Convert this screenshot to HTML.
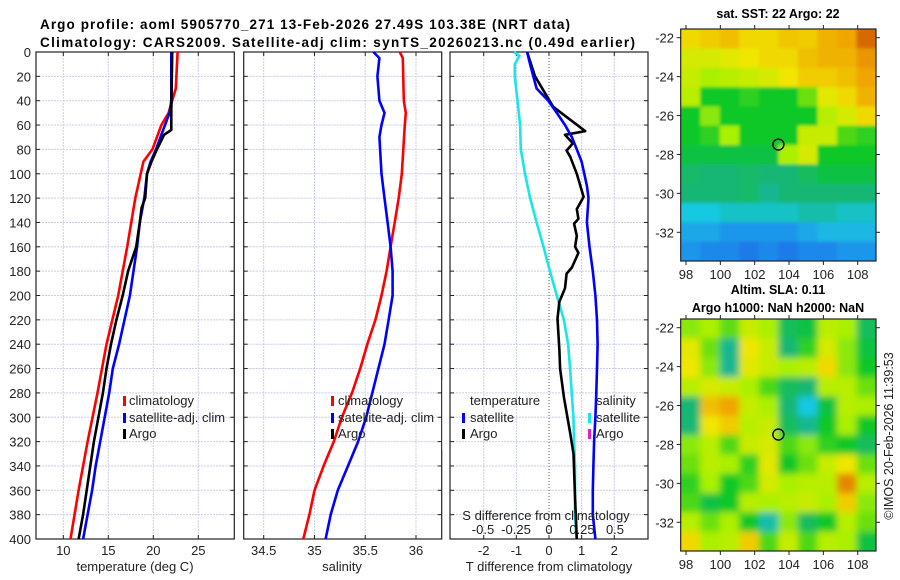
<!DOCTYPE html>
<html><head><meta charset="utf-8"><style>
body{margin:0;background:#fff}
svg{display:block;font-family:"Liberation Sans","DejaVu Sans",sans-serif}
</style></head><body>
<svg id="fig" width="900" height="580" viewBox="0 0 900 580">
<text x="40" y="29" font-size="13.5" font-weight="bold" textLength="530">Argo profile: aoml 5905770_271 13-Feb-2026 27.49S 103.38E (NRT data)</text>
<text x="40" y="47" font-size="13.5" font-weight="bold" textLength="595">Climatology: CARS2009. Satellite-adj clim: synTS_20260213.nc (0.49d earlier)</text>
<text x="778" y="18" font-size="12.5" font-weight="bold" text-anchor="middle">sat. SST: 22 Argo: 22</text>
<text x="778" y="294" font-size="12.5" font-weight="bold" text-anchor="middle">Altim. SLA: 0.11</text>
<text x="778" y="312" font-size="12.5" font-weight="bold" text-anchor="middle">Argo h1000: NaN h2000: NaN</text>
<text transform="translate(893,436) rotate(-90)" font-size="12.5" text-anchor="middle" fill="#222">©IMOS 20-Feb-2026 11:39:53</text>
<g id="plots"></g>
</svg>
<script>
// ---- panel 1 : temperature ----
const climTDepth=[0,30,50,60,80,90,120,160,200,240,280,320,360,400];
const climT=[22.7,22.5,21.7,20.9,19.9,18.9,18.0,17.1,16.1,14.8,13.8,12.7,11.7,10.8];
const satTDepth=[0,40,50,60,70,80,90,100,120,140,160,180,200,220,240,260,280,300,320,340,360,380,400];
const satT=[22.0,22.0,21.8,21.3,20.8,20.3,19.7,19.3,19.0,18.5,18.2,17.8,17.4,16.8,16.2,15.5,15.1,14.6,14.1,13.6,13.2,12.7,12.2];
const argoTDepth=[0,50,64,68,80,90,100,120,128,140,160,180,200,220,240,260,280,300,320,340,360,380,400];
const argoT=[22.1,22.0,22.0,21.2,20.4,19.8,19.3,19.1,18.7,18.5,18.1,17.2,16.6,15.9,15.3,14.8,14.4,13.9,13.4,13.0,12.6,12.2,11.7];
const tTicks=[10,15,20,25];
// ---- panel 2 : salinity ----
const climSDepth=[0,5,40,50,60,100,120,140,160,180,200,220,240,260,280,300,320,340,360,380,400];
const climS=[35.84,35.87,35.88,35.90,35.89,35.86,35.83,35.79,35.75,35.71,35.66,35.60,35.52,35.45,35.37,35.27,35.19,35.09,35.00,34.95,34.89];
const satSDepth=[0,5,20,40,50,60,70,100,120,140,160,180,200,220,240,260,280,300,320,340,360,380,400];
const satS=[35.58,35.64,35.62,35.64,35.69,35.66,35.64,35.66,35.69,35.72,35.75,35.77,35.77,35.73,35.69,35.63,35.57,35.51,35.43,35.33,35.23,35.16,35.11];
const sTicks=["34.5","35","35.5","36"];
// ---- panel 3 : differences ----
const dSatTDepth=[0,10,20,30,40,50,60,70,80,90,100,110,120,140,160,180,200,220,240,260,280,300,320,340,360,380,400];
const dSatT=[-0.67,-0.58,-0.48,-0.38,-0.02,0.24,0.49,0.70,0.85,1.0,1.08,1.16,1.21,1.16,1.24,1.34,1.42,1.47,1.49,1.47,1.45,1.42,1.38,1.36,1.34,1.34,1.42];
const dArgoTDepth=[0,20,45,65,68,75,81,86,100,119,129,137,141,151,160,165,177,182,194,205,219,245,260,284,313,330,367,400];
const dArgoT=[-0.67,-0.43,0.13,1.11,0.49,0.73,0.54,0.65,0.85,1.06,0.85,0.90,0.77,0.85,0.80,0.90,0.70,0.54,0.49,0.32,0.26,0.32,0.34,0.46,0.65,0.75,0.80,0.85];
const dSatSDepth=[0,3,10,20,40,60,80,100,120,140,160,180,200,220,240,260,280,300,320,340,360,380,400];
const dSatS=[-0.266,-0.224,-0.259,-0.259,-0.239,-0.219,-0.214,-0.182,-0.143,-0.094,-0.042,0.007,0.059,0.113,0.145,0.160,0.172,0.185,0.19,0.197,0.197,0.197,0.209];
const dTTicks=[-2,-1,0,1,2];
const dSTicks=["-0.5","-0.25","0","0.25","0.5"];
const depthTicks=[0,20,40,60,80,100,120,140,160,180,200,220,240,260,280,300,320,340,360,380,400];
// ---- maps (rows north->south, cols west->east) ----
const sstGrid=[
[.72,.74,.76,.72,.72,.75,.74,.78,.80,.88],
[.66,.66,.68,.70,.72,.72,.76,.78,.78,.82],
[.64,.60,.62,.64,.66,.70,.74,.74,.76,.80],
[.62,.50,.50,.52,.50,.50,.56,.68,.72,.78],
[.50,.58,.50,.50,.50,.50,.50,.62,.66,.72],
[.50,.52,.60,.50,.50,.50,.64,.64,.54,.52],
[.48,.48,.48,.48,.48,.60,.66,.50,.50,.50],
[.45,.44,.44,.45,.44,.44,.46,.48,.48,.48],
[.44,.44,.44,.45,.42,.44,.44,.44,.44,.44],
[.36,.36,.38,.38,.38,.38,.40,.40,.38,.38],
[.32,.32,.30,.30,.30,.30,.32,.34,.34,.34],
[.30,.28,.28,.26,.28,.26,.28,.28,.30,.30]];
const slaGrid=[
[.58,.60,.55,.64,.60,.46,.48,.62,.60,.46],
[.68,.56,.42,.70,.64,.44,.52,.66,.58,.48],
[.70,.58,.42,.68,.64,.60,.62,.72,.58,.50],
[.62,.66,.64,.60,.54,.46,.44,.62,.62,.56],
[.44,.76,.80,.64,.60,.44,.36,.48,.62,.60],
[.44,.70,.74,.62,.64,.46,.42,.50,.60,.50],
[.58,.62,.54,.64,.66,.54,.58,.52,.50,.46],
[.56,.62,.60,.52,.68,.50,.56,.64,.70,.56],
[.52,.60,.50,.54,.66,.60,.62,.62,.84,.62],
[.54,.48,.50,.62,.60,.62,.64,.60,.74,.58],
[.62,.56,.60,.50,.40,.58,.46,.50,.62,.56],
[.72,.60,.62,.74,.54,.64,.54,.62,.60,.48]];
const lonTicks=[98,100,102,104,106,108];
const latTicks=[-22,-24,-26,-28,-30,-32];
const argoLon=103.38, argoLat=-27.49;

const NS="http://www.w3.org/2000/svg";
const root=document.getElementById('plots');
function mk(tag,attrs,parent){const e=document.createElementNS(NS,tag);for(const k in attrs)e.setAttribute(k,attrs[k]);(parent||root).appendChild(e);return e;}
const Y0=52,Y1=539;
function yDepth(d){return Y0+d*(Y1-Y0)/400;}
function linMap(v0,p0,v1,p1){return v=>p0+(v-v0)*(p1-p0)/(v1-v0);}
const xT=linMap(10,63.3,25,198.3);
const xS=linMap(34.5,263.7,36,416);
const xD=linMap(0,549,2,614.3);
const xDS=linMap(0,549,0.5,615);

function panel(name,x0,x1,vticks,xf,labels,showY){
  const g=mk('g',{});
  
  
  depthTicks.forEach(d=>{
    const l=mk('line',{x1:x0,x2:x1,y1:yDepth(d),y2:yDepth(d),stroke:'#c9cdea','stroke-width':1,'stroke-dasharray':'2,1'},g);
    
    
    mk('line',{x1:x0,x2:x0+4,y1:yDepth(d),y2:yDepth(d),stroke:'#222'},g);
    mk('line',{x1:x1-4,x2:x1,y1:yDepth(d),y2:yDepth(d),stroke:'#222'},g);
    if(showY){const t=mk('text',{x:31,y:yDepth(d)+5,'font-size':13,'text-anchor':'end',fill:'#222'},g);t.textContent=d;
      
      }
  });
  vticks.forEach((v,i)=>{
    const x=xf(+v);
    const zero=(+v===0&&name==='difference-panel');
    const l=mk('line',{x1:x,x2:x,y1:Y0,y2:Y1,stroke:zero?'#555':'#c9cdea','stroke-width':1,'stroke-dasharray':zero?'1,2':'2,1'},g);
    
    
    mk('line',{x1:x,x2:x,y1:Y1-4,y2:Y1,stroke:'#222'},g);
    mk('line',{x1:x,x2:x,y1:Y0,y2:Y0+4,stroke:'#222'},g);
    const t=mk('text',{x:x,y:555,'font-size':13,'text-anchor':'middle',fill:'#222'},g);t.textContent=labels[i];
    
    
  });
  mk('rect',{x:x0,y:Y0,width:x1-x0,height:Y1-Y0,fill:'none',stroke:'#222','stroke-width':1.2},g);
  return g;
}
function series(g,depths,vals,xf,color,name){
  const pts=vals.map((v,i)=>xf(v).toFixed(1)+','+yDepth(depths[i]).toFixed(1)).join(' ');
  const p=mk('polyline',{points:pts,fill:'none',stroke:color,'stroke-width':2.6,'stroke-linejoin':'round'},g);
  
  
}
function txt(g,x,y,s,name,anchor,size){const t=mk('text',{x:x,y:y,'font-size':size||13,'text-anchor':anchor||'start',fill:'#222'},g);t.textContent=s;
  
  return t;}
function legendMark(g,x,y,color,name){const r=mk('rect',{x:x,y:y-9,width:3,height:10,fill:color},g);
  
  }

// panel 1
const g1=panel('temperature-panel',36,234.3,tTicks,xT,tTicks.map(String),true);
series(g1,climTDepth,climT,xT,'#ff0000','climatology-temperature-line');
series(g1,satTDepth,satT,xT,'#0000ff','satellite-temperature-line');
series(g1,argoTDepth,argoT,xT,'#000000','argo-temperature-line');
txt(g1,135,571,'temperature (deg C)','temperature-axis-title','middle');
legendMark(g1,123,405,'#ff0000','legend-marker-climatology');txt(g1,129,405,'climatology','legend-climatology');
legendMark(g1,123,422,'#0000ff','legend-marker-satellite');txt(g1,129,422,'satellite-adj. clim','legend-satellite-adj');
legendMark(g1,123,438,'#000','legend-marker-argo');txt(g1,129,438,'Argo','legend-argo');

// panel 2
const g2=panel('salinity-panel',243.7,441.7,sTicks,xS,sTicks,false);
series(g2,climSDepth,climS,xS,'#ff0000','climatology-salinity-line');
series(g2,satSDepth,satS,xS,'#0000ff','satellite-salinity-line');
txt(g2,342,571,'salinity','salinity-axis-title','middle');
legendMark(g2,331,405,'#ff0000','legend-marker-climatology');txt(g2,338,405,'climatology','legend-climatology');
legendMark(g2,331,422,'#0000ff','legend-marker-satellite');txt(g2,338,422,'satellite-adj. clim','legend-satellite-adj');
legendMark(g2,331,438,'#000','legend-marker-argo');txt(g2,338,438,'Argo','legend-argo');
mk('rect',{x:442.3,y:380,width:8,height:70,fill:'#fff'});

// panel 3
const g3=panel('difference-panel',450,648,dTTicks,xD,dTTicks.map(String),false);
series(g3,dSatSDepth,dSatS,xDS,'#19e6e6','salinity-satellite-difference-line');
series(g3,dArgoTDepth,dArgoT,xD,'#000000','argo-temperature-difference-line');
series(g3,dSatTDepth,dSatT,xD,'#0000ff','satellite-temperature-difference-line');
txt(g3,549,571,'T difference from climatology','t-difference-axis-title','middle');
txt(g3,470,405,'temperature','legend-temperature-header');
legendMark(g3,462,422,'#0000ff','legend-marker-t-satellite');txt(g3,470,422,'satellite','legend-t-satellite');
legendMark(g3,462,438,'#000','legend-marker-t-argo');txt(g3,470,438,'Argo','legend-t-argo');
txt(g3,596,405,'salinity','legend-salinity-header');
legendMark(g3,588,422,'#19e6e6','legend-marker-s-satellite');txt(g3,596,422,'satellite','legend-s-satellite');
legendMark(g3,588,438,'#e020c0','legend-marker-s-argo');txt(g3,596,438,'Argo','legend-s-argo');
txt(g3,546,520,'S difference from climatology','s-difference-axis-title','middle');
dSTicks.forEach(s=>{txt(g3,xDS(+s),534,s,'s-difference-tick-label','middle');});

// maps
function cmap(v){
  const stops=[[0.2,[20,80,230]],[0.3,[30,150,235]],[0.36,[25,200,225]],[0.43,[20,180,130]],[0.5,[15,200,40]],[0.6,[170,240,0]],[0.7,[240,230,0]],[0.8,[240,165,0]],[0.9,[210,90,0]]];
  if(v<=stops[0][0])return 'rgb('+stops[0][1]+')';
  for(let i=1;i<stops.length;i++){if(v<=stops[i][0]){const a=stops[i-1],b=stops[i],t=(v-a[0])/(b[0]-a[0]);
    return 'rgb('+a[1].map((c,k)=>Math.round(c+(b[1][k]-c)*t)).join(',')+')';}}
  return 'rgb('+stops[stops.length-1][1]+')';
}
const defs=mk('defs',{});
const flt=mk('filter',{id:'blur',x:'-5%',y:'-5%',width:'110%',height:'110%'},defs);
mk('feGaussianBlur',{stdDeviation:3.5},flt);
const flt2=mk('filter',{id:'blur2',x:'-5%',y:'-5%',width:'110%',height:'110%'},defs);
mk('feGaussianBlur',{stdDeviation:1.5},flt2);
function map(name,grid,top,bottom,lat22,lat32,blur){
  const L=680.7,R=876;
  const lonX=linMap(98,686,108,857.7);
  const latY=linMap(-22,lat22,-32,lat32);
  const g=mk('g',{});
  
  
  const cp=mk('clipPath',{id:name+'-clip'},defs);
  mk('rect',{x:L,y:top,width:R-L,height:bottom-top},cp);
  const cg=mk('g',{'clip-path':'url(#'+name+'-clip)'},g);
  const inner=mk('g',{filter:blur?'url(#blur)':'url(#blur2)'},cg);
  const rows=grid.length,cols=grid[0].length;
  const cw=(R-L)/cols,ch=(bottom-top)/rows;
  grid.forEach((row,r)=>row.forEach((v,c)=>{
    const ex=(c===0?-cw*0.5:0), ey=(r===0?-ch*0.5:0);
    const cell=mk('rect',{x:L+c*cw+ex,y:top+r*ch+ey,width:cw+0.6-ex+(c===cols-1?cw*0.5:0),height:ch+0.6-ey+(r===rows-1?ch*0.5:0),fill:cmap(v)},inner);
    
    
  }));
  mk('rect',{x:L,y:top,width:R-L,height:bottom-top,fill:'none',stroke:'#222','stroke-width':1.2},g);
  latTicks.forEach(la=>{const y=latY(la);
    mk('line',{x1:L-4,x2:L,y1:y,y2:y,stroke:'#222'},g);
    mk('line',{x1:R,x2:R+4,y1:y,y2:y,stroke:'#222'},g);
    txt(g,674,y+5,String(la),'latitude-tick-label','end');});
  lonTicks.forEach(lo=>{const x=lonX(lo);
    mk('line',{x1:x,x2:x,y1:bottom,y2:bottom+4,stroke:'#222'},g);
    mk('line',{x1:x,x2:x,y1:top-4,y2:top,stroke:'#222'},g);
    txt(g,x,bottom+18,String(lo),'longitude-tick-label','middle');});
  const c=mk('circle',{cx:lonX(argoLon),cy:latY(argoLat),r:5.5,fill:'none',stroke:'#000','stroke-width':1.4},g);
  
  
}
map('sst-map',sstGrid,29,261,37.7,232.3,false);
map('sla-map',slaGrid,319,551,327.7,522.3,true);
</script>
</body></html>
